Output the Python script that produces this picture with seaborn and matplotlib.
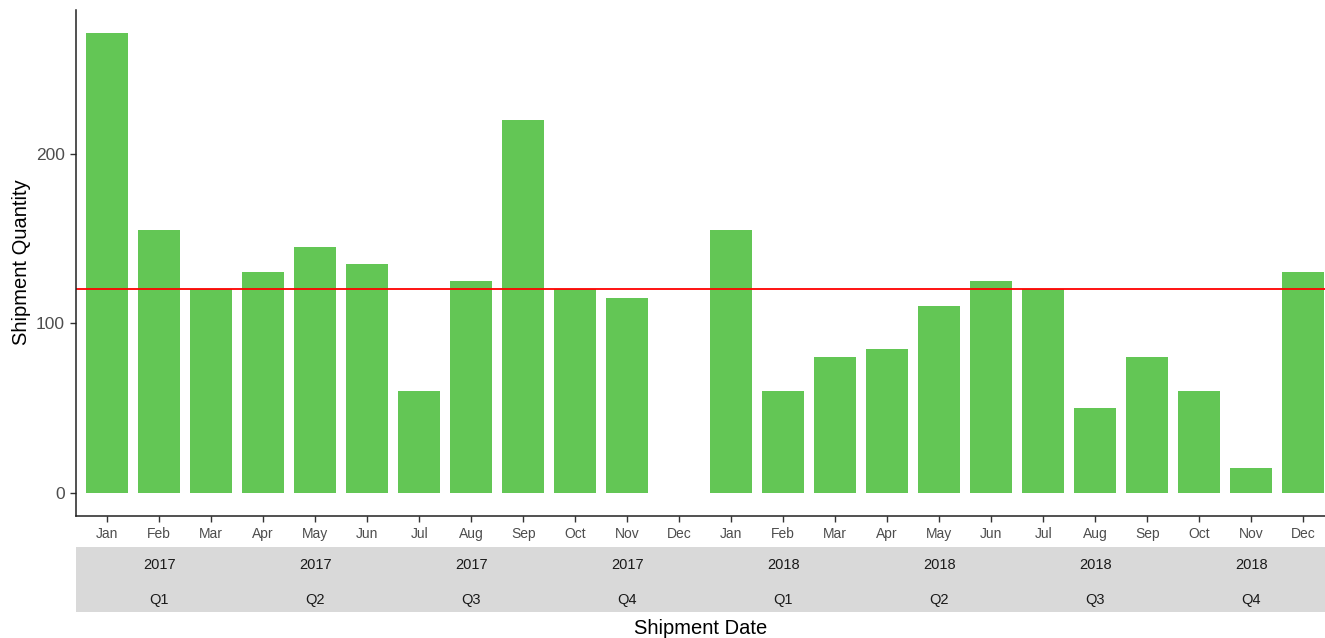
import pandas as pd
import seaborn as sns
import matplotlib.pyplot as plt
from matplotlib import transforms
from matplotlib.patches import Rectangle

# Data
months = ['Jan', 'Feb', 'Mar', 'Apr', 'May', 'Jun',
          'Jul', 'Aug', 'Sep', 'Oct', 'Nov', 'Dec']
years = [2017, 2018]
qty_2017 = [271, 155, 120, 130, 145, 135, 60, 125, 220, 120, 115, 0]
qty_2018 = [155, 60, 80, 85, 110, 125, 120, 50, 80, 60, 15, 130]
quarters = ['Q1', 'Q2', 'Q3', 'Q4']
target = 120

df = pd.DataFrame({
    'year': [y for y in years for _ in months],
    'month': months * len(years),
    'qty': qty_2017 + qty_2018,
})
df['period'] = df['month'] + ' ' + df['year'].astype(str)

sns.set_style('white')
plt.rcParams['font.family'] = ['Liberation Sans', 'DejaVu Sans']

fig = plt.figure(figsize=(13.25, 6.38), dpi=100)
ax = fig.add_axes([76 / 1325, 1 - 516 / 638, 1 - 76 / 1325, 506 / 638])

sns.barplot(data=df, x='period', y='qty', color='#63C655', saturation=1,
            width=0.8, linewidth=0, ax=ax)
ax.axhline(target, color='#FF0000', linewidth=1.3)

ax.set_xlim(-0.6, len(df) - 0.58)
ax.set_ylim(-13.5, 284.6)
ax.set_yticks([0, 100, 200])
ax.set_xticks(range(len(df)))
ax.set_xticklabels(df['month'])
ax.set_xlabel('')
ax.set_ylabel('')

for s in ['top', 'right']:
    ax.spines[s].set_visible(False)
for s in ['left', 'bottom']:
    ax.spines[s].set_color('#222222')
    ax.spines[s].set_linewidth(1.1)
ax.tick_params(axis='x', bottom=True, length=4, width=1, color='#333333', pad=4,
               labelsize=10, labelcolor='#4D4D4D')
ax.tick_params(axis='y', left=True, length=4, width=1, color='#333333', pad=4,
               labelsize=12.5, labelcolor='#4D4D4D')

# quarter strip under the month labels
fig.patches.append(Rectangle((76 / 1325, 1 - 612 / 638), 1 - 76 / 1325, 65 / 638,
                             transform=fig.transFigure, facecolor='#D9D9D9',
                             edgecolor='none', zorder=-1))
trans = transforms.blended_transform_factory(ax.transData, fig.transFigure)
for yi, yr in enumerate(years):
    for qi, q in enumerate(quarters):
        xc = yi * 12 + qi * 3 + 1
        fig.text(xc, 1 - 565 / 638, str(yr), transform=trans, ha='center', va='center',
                 fontsize=10.5, color='#1A1A1A', zorder=5)
        fig.text(xc, 1 - 600 / 638, q, transform=trans, ha='center', va='center',
                 fontsize=10.5, color='#1A1A1A', zorder=5)

fig.text((76 + 1325) / 2 / 1325, 1 - 629 / 638, 'Shipment Date',
         ha='center', va='center', fontsize=14.5, color='black')
fig.text(22 / 1325, 1 - 262 / 638, 'Shipment Quantity', rotation=90,
         ha='center', va='center', fontsize=14.5, color='black')

fig.savefig('out.png', dpi=100)
